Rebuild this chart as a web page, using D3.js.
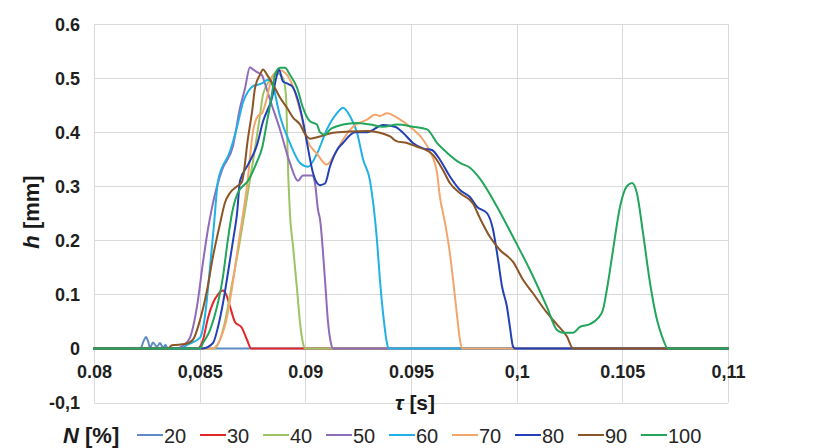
<!DOCTYPE html>
<html>
<head>
<meta charset="utf-8">
<script src="https://cdn.jsdelivr.net/npm/d3@7"></script>
<style>
  html, body { margin: 0; padding: 0; background: #fff; }
  svg { display: block; font-family: "Liberation Sans", Arial, sans-serif; }
</style>
</head>
<body>
<svg id="chart" width="828" height="448"></svg>
<script>
// Tick values and their printed labels
const xTicks = [0.08, 0.085, 0.09, 0.095, 0.1, 0.105, 0.11];
const xTickLabels = ["0.08", "0,085", "0.09", "0.095", "0,1", "0.105", "0,11"];
const yTicks = [-0.1, 0, 0.1, 0.2, 0.3, 0.4, 0.5, 0.6];
const yTickLabels = ["-0,1", "0", "0.1", "0.2", "0.3", "0.4", "0.5", "0.6"];

// Series: load level N [%]
const seriesNames = ["20", "30", "40", "50", "60", "70", "80", "90", "100"];
const seriesColors = ["#5f8cc6", "#e2262a", "#9dc462", "#8f6bb9", "#21b1e6", "#f3a56c", "#2340b6", "#8b5526", "#21a65b"];

// Each series: [tau (s), h (mm)]
const n20 = [[0.08,0],[0.0822,0],[0.08235,0.014],[0.08246,0.021],[0.08257,0.012],[0.08265,0.001],[0.08279,0.011],[0.0829,0.006],[0.08298,0.003],[0.08312,0.01],[0.08322,0.004],[0.08331,0.002],[0.08338,0.007],[0.08345,0.002],[0.0836,0],[0.11,0]];
const n30 = [[0.08,0],[0.0849,0],[0.08516,0.016],[0.08539,0.056],[0.08563,0.084],[0.08587,0.1],[0.0861,0.107],[0.08625,0.1],[0.08644,0.077],[0.08667,0.049],[0.087,0.038],[0.08724,0.016],[0.08743,0],[0.11,0]];
const n40 = [[0.08,0],[0.0857,0],[0.0862,0.05],[0.08644,0.1],[0.08691,0.2],[0.08733,0.3],[0.08762,0.37],[0.08785,0.43],[0.088,0.47],[0.08833,0.497],[0.08861,0.51],[0.08894,0.5],[0.08908,0.47],[0.0892,0.31],[0.08927,0.25],[0.08942,0.188],[0.08961,0.108],[0.08975,0.047],[0.08989,0.01],[0.08998,0],[0.11,0]];
const n50 = [[0.08,0],[0.0839,0],[0.08421,0.005],[0.08454,0.02],[0.08487,0.077],[0.08516,0.16],[0.08539,0.22],[0.08558,0.26],[0.08582,0.3],[0.08606,0.33],[0.08658,0.375],[0.08691,0.445],[0.08714,0.48],[0.08738,0.52],[0.08752,0.516],[0.08776,0.51],[0.08795,0.505],[0.08809,0.49],[0.08833,0.46],[0.0888,0.405],[0.08927,0.343],[0.08965,0.31],[0.08989,0.32],[0.09032,0.32],[0.09046,0.305],[0.0906,0.256],[0.09069,0.24],[0.09093,0.127],[0.09107,0.05],[0.09121,0.01],[0.09131,0],[0.11,0]];
const n60 = [[0.08,0],[0.0842,0],[0.08431,0.004],[0.08502,0.02],[0.08525,0.06],[0.08549,0.15],[0.08568,0.23],[0.08587,0.31],[0.08644,0.365],[0.08677,0.41],[0.08705,0.455],[0.08729,0.475],[0.08752,0.485],[0.08795,0.49],[0.08823,0.497],[0.08847,0.484],[0.0888,0.43],[0.08927,0.38],[0.08975,0.343],[0.09013,0.336],[0.09055,0.36],[0.09102,0.405],[0.0915,0.435],[0.09178,0.445],[0.09211,0.43],[0.09244,0.4],[0.09273,0.35],[0.09306,0.31],[0.09339,0.2],[0.09353,0.127],[0.09372,0.05],[0.09386,0.01],[0.09396,0],[0.11,0]];
const n70 = [[0.08,0],[0.08558,0],[0.08625,0.05],[0.08648,0.1],[0.08686,0.2],[0.08724,0.3],[0.08752,0.4],[0.08776,0.43],[0.08795,0.435],[0.08809,0.45],[0.08842,0.5],[0.08875,0.515],[0.08904,0.51],[0.08942,0.484],[0.08975,0.44],[0.09008,0.386],[0.09055,0.36],[0.09102,0.34],[0.0914,0.36],[0.09178,0.386],[0.09226,0.41],[0.09292,0.423],[0.0933,0.432],[0.09353,0.43],[0.09386,0.435],[0.09434,0.427],[0.09495,0.41],[0.09557,0.386],[0.0959,0.364],[0.09623,0.325],[0.09637,0.28],[0.09661,0.232],[0.09684,0.176],[0.09699,0.127],[0.09718,0.06],[0.09732,0.015],[0.09741,0],[0.11,0]];
const n80 = [[0.08,0],[0.08516,0],[0.08563,0.01],[0.08587,0.04],[0.0861,0.083],[0.08634,0.14],[0.08658,0.2],[0.08677,0.25],[0.08691,0.31],[0.08729,0.34],[0.08771,0.376],[0.088,0.42],[0.08842,0.463],[0.08866,0.506],[0.08875,0.516],[0.08894,0.494],[0.08913,0.49],[0.08937,0.485],[0.08961,0.464],[0.08989,0.42],[0.09008,0.38],[0.09036,0.325],[0.09069,0.302],[0.09093,0.305],[0.09117,0.337],[0.0915,0.367],[0.09178,0.38],[0.09235,0.4],[0.09292,0.4],[0.09368,0.413],[0.09424,0.41],[0.09462,0.399],[0.09509,0.38],[0.09557,0.37],[0.09599,0.367],[0.09637,0.349],[0.09684,0.318],[0.09732,0.293],[0.09779,0.28],[0.09812,0.262],[0.0986,0.25],[0.09888,0.22],[0.09912,0.164],[0.09931,0.114],[0.09954,0.077],[0.09968,0.04],[0.09983,0.003],[0.09992,0],[0.11,0]];
const n90 = [[0.08,0],[0.0835,0],[0.08369,0.006],[0.08431,0.008],[0.08468,0.016],[0.08502,0.053],[0.08535,0.108],[0.08563,0.17],[0.08596,0.23],[0.0862,0.27],[0.08644,0.288],[0.08677,0.3],[0.087,0.308],[0.08729,0.39],[0.08748,0.438],[0.08762,0.482],[0.08785,0.506],[0.088,0.516],[0.08819,0.506],[0.08847,0.488],[0.0888,0.464],[0.08913,0.445],[0.08942,0.427],[0.08975,0.414],[0.08998,0.397],[0.09022,0.388],[0.09069,0.392],[0.09131,0.399],[0.09211,0.401],[0.09292,0.402],[0.09353,0.399],[0.09401,0.392],[0.09434,0.383],[0.09481,0.38],[0.09528,0.373],[0.09576,0.366],[0.09604,0.358],[0.09651,0.33],[0.09684,0.306],[0.09732,0.287],[0.09793,0.268],[0.09826,0.241],[0.09874,0.206],[0.09921,0.182],[0.09983,0.16],[0.1003,0.127],[0.10077,0.102],[0.10143,0.066],[0.10191,0.044],[0.10238,0.022],[0.10267,0],[0.11,0]];
const n100 = [[0.08,0],[0.08502,0],[0.08516,0.01],[0.08549,0.034],[0.08582,0.077],[0.0861,0.132],[0.08629,0.188],[0.08653,0.25],[0.08681,0.288],[0.08729,0.31],[0.08771,0.345],[0.08795,0.37],[0.08819,0.42],[0.08842,0.47],[0.08856,0.506],[0.0888,0.519],[0.08904,0.519],[0.08927,0.506],[0.08961,0.482],[0.08989,0.445],[0.09022,0.42],[0.09055,0.414],[0.09069,0.4],[0.09093,0.395],[0.09117,0.405],[0.09178,0.414],[0.09244,0.417],[0.09306,0.414],[0.09368,0.41],[0.09434,0.414],[0.09509,0.41],[0.09576,0.405],[0.09623,0.38],[0.0967,0.362],[0.09732,0.343],[0.09779,0.334],[0.09826,0.314],[0.09907,0.262],[0.09983,0.206],[0.10063,0.145],[0.10143,0.077],[0.10191,0.034],[0.10219,0.029],[0.10267,0.029],[0.103,0.04],[0.10347,0.045],[0.10385,0.056],[0.10408,0.071],[0.10432,0.121],[0.10456,0.182],[0.10489,0.262],[0.10522,0.3],[0.10546,0.306],[0.10569,0.287],[0.10598,0.213],[0.10631,0.121],[0.10664,0.053],[0.10688,0.022],[0.10716,0],[0.11,0]];

const seriesData = [n20, n30, n40, n50, n60, n70, n80, n90, n100];

const svg = d3.select("#chart");
const plotLeft = 94, plotRight = 728, plotTop = 24, plotBottom = 402.5;

const x = d3.scaleLinear().domain([0.08, 0.11]).range([plotLeft, plotRight]);
const y = d3.scaleLinear().domain([-0.1, 0.6]).range([plotBottom, plotTop]);

// Gridlines
const grid = svg.append("g");
grid.selectAll("line.v").data(xTicks).join("line")
  .attr("class", "v")
  .attr("x1", d => Math.round(x(d)) + 0.5).attr("x2", d => Math.round(x(d)) + 0.5)
  .attr("y1", plotTop).attr("y2", plotBottom)
  .attr("stroke", "#d9d9d9").attr("stroke-width", 1);
grid.selectAll("line.h").data(yTicks).join("line")
  .attr("class", "h")
  .attr("x1", plotLeft).attr("x2", plotRight)
  .attr("y1", d => Math.round(y(d)) + 0.5).attr("y2", d => Math.round(y(d)) + 0.5)
  .attr("stroke", "#d9d9d9").attr("stroke-width", 1);

// Y axis labels
const yAxis = d3.axisLeft(y).tickValues(yTicks)
  .tickFormat((d, i) => yTickLabels[i]).tickSize(0).tickPadding(14);
const gy = svg.append("g").attr("transform", `translate(${plotLeft},0)`).call(yAxis);
gy.select(".domain").remove();
gy.selectAll("text")
  .attr("font-family", "Liberation Sans, Arial, sans-serif")
  .attr("font-size", 18).attr("font-weight", "bold").attr("fill", "#1f1f1f")
  .attr("dy", "0.36em");

// X axis labels, placed just below the zero line
const xAxis = d3.axisBottom(x).tickValues(xTicks)
  .tickFormat((d, i) => xTickLabels[i]).tickSize(0).tickPadding(0);
const gx = svg.append("g").attr("transform", `translate(0,${y(0)})`).call(xAxis);
gx.select(".domain").remove();
gx.selectAll("text")
  .attr("font-family", "Liberation Sans, Arial, sans-serif")
  .attr("font-size", 18).attr("font-weight", "bold").attr("fill", "#1f1f1f")
  .attr("y", 30).attr("dy", 0);

// Curves
const line = d3.line()
  .x(d => x(d[0]))
  .y(d => y(d[1]))
  .curve(d3.curveMonotoneX);

svg.append("g").selectAll("path").data(seriesData).join("path")
  .attr("d", line)
  .attr("fill", "none")
  .attr("stroke", (d, i) => seriesColors[i])
  .attr("stroke-width", 2)
  .attr("stroke-linejoin", "round")
  .attr("stroke-linecap", "round");

// Axis titles
const tx = svg.append("text")
  .attr("x", 415).attr("y", 410)
  .attr("text-anchor", "middle")
  .attr("font-size", 21).attr("font-weight", "bold").attr("fill", "#1a1a1a");
tx.append("tspan").attr("font-style", "italic").text("τ");
tx.append("tspan").text(" [s]");

const ty = svg.append("text")
  .attr("transform", "translate(39,212) rotate(-90)")
  .attr("text-anchor", "middle")
  .attr("font-size", 22).attr("font-weight", "bold").attr("fill", "#1a1a1a");
ty.append("tspan").attr("font-style", "italic").text("h");
ty.append("tspan").text(" [mm]");

// Legend
const legend = svg.append("g");
const lt = legend.append("text")
  .attr("x", 63).attr("y", 443)
  .attr("font-size", 22).attr("font-weight", "bold").attr("fill", "#1a1a1a");
lt.append("tspan").attr("font-style", "italic").text("N");
lt.append("tspan").text(" [%]");

const items = legend.selectAll("g.item").data(seriesNames).join("g")
  .attr("class", "item")
  .attr("transform", (d, i) => `translate(${137 + i * 63},435)`);
items.append("line")
  .attr("x1", 0).attr("x2", 26).attr("y1", 0).attr("y2", 0)
  .attr("stroke", (d, i) => seriesColors[i]).attr("stroke-width", 2);
items.append("text")
  .attr("x", 27).attr("y", 7.5)
  .attr("font-size", 20).attr("fill", "#262626")
  .text(d => d);
</script>
</body>
</html>
